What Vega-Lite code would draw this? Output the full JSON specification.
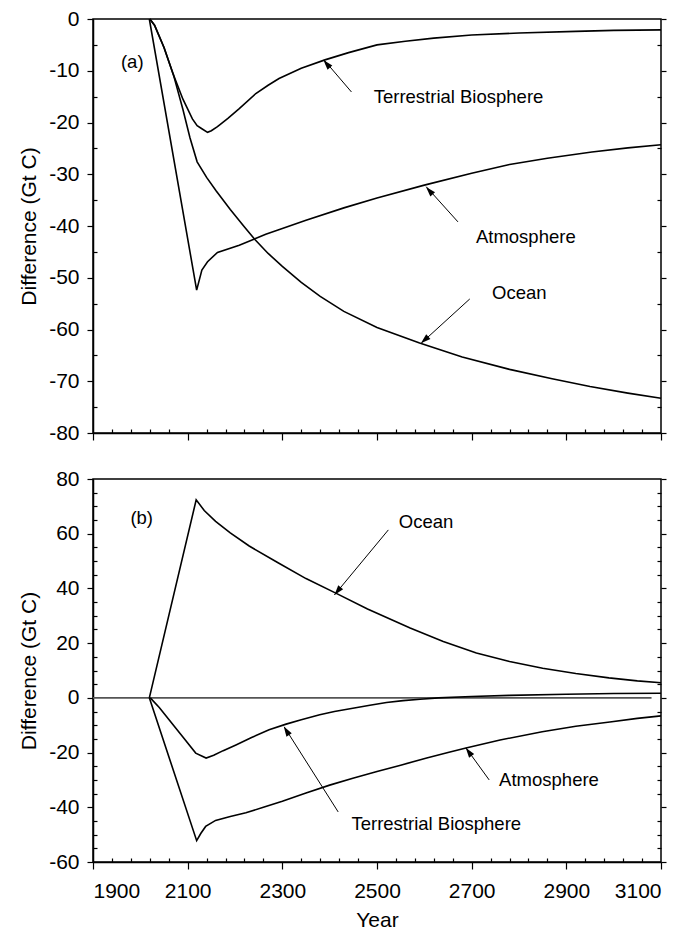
{
  "$schema": "https://vega.github.io/schema/vega-lite/v6.json",
  "padding": {"left": 17, "top": 7, "right": 10, "bottom": 5},
  "background": "white",
  "config": {
    "font": "Liberation Sans",
    "view": {"stroke": "black", "strokeWidth": 1.5},
    "axis": {"domainColor": "black", "tickColor": "black", "labelColor": "black", "titleColor": "black", "labelFont": "Liberation Sans", "titleFont": "Liberation Sans", "labelFontSize": 21, "titleFontSize": 21, "titleFontWeight": "normal", "grid": false, "tickWidth": 1.2, "domainWidth": 1.5}
  },
  "datasets": {
    "a_lines": [
      {"series": "T", "year": 2020, "value": 0}, {"series": "T", "year": 2030, "value": -1.2}, {"series": "T", "year": 2050, "value": -5.5}, {"series": "T", "year": 2070, "value": -10.8}, {"series": "T", "year": 2090, "value": -15.5}, {"series": "T", "year": 2110, "value": -19.3}, {"series": "T", "year": 2120, "value": -20.6}, {"series": "T", "year": 2130, "value": -21.2}, {"series": "T", "year": 2142, "value": -21.9}, {"series": "T", "year": 2150, "value": -21.6}, {"series": "T", "year": 2163, "value": -20.8}, {"series": "T", "year": 2185, "value": -19.2}, {"series": "T", "year": 2209, "value": -17.3}, {"series": "T", "year": 2244, "value": -14.4}, {"series": "T", "year": 2270, "value": -12.8}, {"series": "T", "year": 2293, "value": -11.5}, {"series": "T", "year": 2340, "value": -9.5}, {"series": "T", "year": 2390, "value": -7.9}, {"series": "T", "year": 2440, "value": -6.5}, {"series": "T", "year": 2500, "value": -5.0}, {"series": "T", "year": 2560, "value": -4.3}, {"series": "T", "year": 2620, "value": -3.7}, {"series": "T", "year": 2700, "value": -3.1}, {"series": "T", "year": 2800, "value": -2.7}, {"series": "T", "year": 2920, "value": -2.4}, {"series": "T", "year": 3000, "value": -2.2}, {"series": "T", "year": 3100, "value": -2.1},
      {"series": "O", "year": 2020, "value": 0}, {"series": "O", "year": 2030, "value": -1.2}, {"series": "O", "year": 2050, "value": -5.5}, {"series": "O", "year": 2070, "value": -10.8}, {"series": "O", "year": 2090, "value": -17.5}, {"series": "O", "year": 2105, "value": -23.0}, {"series": "O", "year": 2120, "value": -27.6}, {"series": "O", "year": 2140, "value": -30.6}, {"series": "O", "year": 2160, "value": -33.2}, {"series": "O", "year": 2190, "value": -36.8}, {"series": "O", "year": 2220, "value": -40.2}, {"series": "O", "year": 2242, "value": -42.6}, {"series": "O", "year": 2270, "value": -45.3}, {"series": "O", "year": 2300, "value": -47.8}, {"series": "O", "year": 2340, "value": -50.9}, {"series": "O", "year": 2380, "value": -53.6}, {"series": "O", "year": 2430, "value": -56.5}, {"series": "O", "year": 2500, "value": -59.6}, {"series": "O", "year": 2590, "value": -62.6}, {"series": "O", "year": 2680, "value": -65.3}, {"series": "O", "year": 2780, "value": -67.7}, {"series": "O", "year": 2870, "value": -69.5}, {"series": "O", "year": 2950, "value": -71.0}, {"series": "O", "year": 3030, "value": -72.3}, {"series": "O", "year": 3100, "value": -73.3},
      {"series": "A", "year": 2019, "value": 0}, {"series": "A", "year": 2119, "value": -52.4}, {"series": "A", "year": 2130, "value": -48.5}, {"series": "A", "year": 2142, "value": -46.9}, {"series": "A", "year": 2163, "value": -45.1}, {"series": "A", "year": 2209, "value": -43.7}, {"series": "A", "year": 2265, "value": -41.6}, {"series": "A", "year": 2300, "value": -40.5}, {"series": "A", "year": 2350, "value": -38.9}, {"series": "A", "year": 2430, "value": -36.5}, {"series": "A", "year": 2500, "value": -34.6}, {"series": "A", "year": 2600, "value": -32.1}, {"series": "A", "year": 2700, "value": -29.8}, {"series": "A", "year": 2780, "value": -28.1}, {"series": "A", "year": 2860, "value": -26.9}, {"series": "A", "year": 2954, "value": -25.7}, {"series": "A", "year": 3030, "value": -24.9}, {"series": "A", "year": 3100, "value": -24.3}
    ],
    "b_lines": [
      {"series": "Z", "year": 1900, "value": 0}, {"series": "Z", "year": 3080, "value": 0},
      {"series": "O", "year": 2019, "value": 0}, {"series": "O", "year": 2118, "value": 72.4}, {"series": "O", "year": 2135, "value": 68.5}, {"series": "O", "year": 2159, "value": 64.5}, {"series": "O", "year": 2190, "value": 60.3}, {"series": "O", "year": 2230, "value": 55.5}, {"series": "O", "year": 2290, "value": 49.5}, {"series": "O", "year": 2350, "value": 43.6}, {"series": "O", "year": 2414, "value": 38.2}, {"series": "O", "year": 2480, "value": 32.5}, {"series": "O", "year": 2570, "value": 25.5}, {"series": "O", "year": 2640, "value": 20.6}, {"series": "O", "year": 2710, "value": 16.4}, {"series": "O", "year": 2780, "value": 13.3}, {"series": "O", "year": 2850, "value": 10.8}, {"series": "O", "year": 2920, "value": 8.9}, {"series": "O", "year": 2990, "value": 7.3}, {"series": "O", "year": 3050, "value": 6.2}, {"series": "O", "year": 3100, "value": 5.5},
      {"series": "T", "year": 2021, "value": 0}, {"series": "T", "year": 2040, "value": -3.5}, {"series": "T", "year": 2070, "value": -10.0}, {"series": "T", "year": 2095, "value": -15.4}, {"series": "T", "year": 2117, "value": -20.2}, {"series": "T", "year": 2139, "value": -22.0}, {"series": "T", "year": 2155, "value": -21.0}, {"series": "T", "year": 2175, "value": -19.3}, {"series": "T", "year": 2202, "value": -17.2}, {"series": "T", "year": 2235, "value": -14.5}, {"series": "T", "year": 2272, "value": -11.7}, {"series": "T", "year": 2308, "value": -9.6}, {"series": "T", "year": 2340, "value": -8.0}, {"series": "T", "year": 2379, "value": -6.2}, {"series": "T", "year": 2410, "value": -5.0}, {"series": "T", "year": 2449, "value": -3.8}, {"series": "T", "year": 2485, "value": -2.7}, {"series": "T", "year": 2520, "value": -1.7}, {"series": "T", "year": 2555, "value": -1.0}, {"series": "T", "year": 2591, "value": -0.5}, {"series": "T", "year": 2630, "value": 0}, {"series": "T", "year": 2700, "value": 0.5}, {"series": "T", "year": 2780, "value": 0.9}, {"series": "T", "year": 2900, "value": 1.3}, {"series": "T", "year": 3000, "value": 1.6}, {"series": "T", "year": 3100, "value": 1.7},
      {"series": "A", "year": 2019, "value": 0}, {"series": "A", "year": 2119, "value": -52.2}, {"series": "A", "year": 2128, "value": -49.5}, {"series": "A", "year": 2138, "value": -47.0}, {"series": "A", "year": 2159, "value": -44.8}, {"series": "A", "year": 2190, "value": -43.4}, {"series": "A", "year": 2223, "value": -42.0}, {"series": "A", "year": 2260, "value": -40.0}, {"series": "A", "year": 2300, "value": -37.8}, {"series": "A", "year": 2350, "value": -34.8}, {"series": "A", "year": 2400, "value": -31.9}, {"series": "A", "year": 2449, "value": -29.4}, {"series": "A", "year": 2500, "value": -26.9}, {"series": "A", "year": 2550, "value": -24.6}, {"series": "A", "year": 2605, "value": -22.0}, {"series": "A", "year": 2650, "value": -20.0}, {"series": "A", "year": 2688, "value": -18.3}, {"series": "A", "year": 2760, "value": -15.4}, {"series": "A", "year": 2849, "value": -12.4}, {"series": "A", "year": 2920, "value": -10.4}, {"series": "A", "year": 2992, "value": -8.8}, {"series": "A", "year": 3050, "value": -7.5}, {"series": "A", "year": 3100, "value": -6.6}
    ],
    "a_notes": [
      {"label": "(a)", "tx": 1959, "ty": -8.3},
      {"label": "Terrestrial Biosphere", "tx": 2493, "ty": -15.1, "x1": 2446, "y1": -14.1, "x2": 2388, "y2": -7.9, "hx": 2394, "hy": -8.7, "angle": -41},
      {"label": "Atmosphere", "tx": 2709, "ty": -42.1, "x1": 2671, "y1": -39.2, "x2": 2604, "y2": -32.4, "hx": 2611, "hy": -33.2, "angle": -42},
      {"label": "Ocean", "tx": 2743, "ty": -52.9, "x1": 2696, "y1": -54.1, "x2": 2594, "y2": -62.6, "hx": 2601, "hy": -62.0, "angle": -132}
    ],
    "b_notes": [
      {"label": "(b)", "tx": 1979, "ty": 65.8},
      {"label": "Ocean", "tx": 2546, "ty": 64.3, "x1": 2524, "y1": 61.4, "x2": 2410, "y2": 37.6, "hx": 2417, "hy": 39.1, "angle": -141},
      {"label": "Atmosphere", "tx": 2758, "ty": -30.0, "x1": 2737, "y1": -30.0, "x2": 2688, "y2": -18.3, "hx": 2694, "hy": -19.8, "angle": -36},
      {"label": "Terrestrial Biosphere", "tx": 2446, "ty": -46.1, "x1": 2418, "y1": -41.7, "x2": 2304, "y2": -10.6, "hx": 2309, "hy": -12.1, "angle": -32}
    ]
  },
  "spacing": 23,
  "vconcat": [
    {
      "width": 568, "height": 414,
      "data": {"name": "a_lines"},
      "resolve": {"axis": {"x": "independent", "y": "independent"}},
      "layer": [
        {
          "mark": {"type": "line", "strokeWidth": 1.6, "color": "black"},
          "encoding": {
            "x": {"field": "year", "type": "quantitative", "scale": {"domain": [1900, 3100], "nice": false, "zero": false}, "axis": {"orient": "bottom", "values": [1900, 2100, 2300, 2500, 2700, 2900, 3100], "tickSize": 7, "labels": false, "title": null}},
            "y": {"field": "value", "type": "quantitative", "scale": {"domain": [-80, 0], "nice": false, "zero": false}, "axis": {"orient": "left", "values": [-80, -70, -60, -50, -40, -30, -20, -10, 0], "tickSize": 6, "labelPadding": 8, "labelExpr": "'' + datum.value", "title": "Difference (Gt C)", "titlePadding": 9}},
            "detail": {"field": "series"}
          }
        },
        {
          "mark": {"type": "point", "opacity": 0},
          "encoding": {
            "x": {"field": "year", "type": "quantitative", "scale": {"domain": [1900, 3100], "nice": false, "zero": false}, "axis": {"orient": "bottom", "values": [1940, 1980, 2020, 2060, 2140, 2180, 2220, 2260, 2340, 2380, 2420, 2460, 2540, 2580, 2620, 2660, 2740, 2780, 2820, 2860, 2940, 2980, 3020, 3060], "tickSize": -4, "labels": false, "domain": false, "title": null}},
            "y": {"field": "value", "type": "quantitative", "scale": {"domain": [-80, 0], "nice": false, "zero": false}, "axis": {"orient": "left", "values": [-75, -65, -55, -45, -35, -25, -15, -5], "tickSize": -4, "labels": false, "domain": false, "title": null}}
          }
        },
        {
          "mark": {"type": "point", "opacity": 0},
          "encoding": {
            "x": {"field": "year", "type": "quantitative", "scale": {"domain": [1900, 3100], "nice": false, "zero": false}, "axis": null},
            "y": {"field": "value", "type": "quantitative", "scale": {"domain": [-80, 0], "nice": false, "zero": false}, "axis": {"orient": "right", "values": [-80, -70, -60, -50, -40, -30, -20, -10, 0], "tickSize": 5, "labels": false, "domain": false, "title": null}}
          }
        },
        {
          "mark": {"type": "point", "opacity": 0},
          "encoding": {
            "x": {"field": "year", "type": "quantitative", "scale": {"domain": [1900, 3100], "nice": false, "zero": false}, "axis": null},
            "y": {"field": "value", "type": "quantitative", "scale": {"domain": [-80, 0], "nice": false, "zero": false}, "axis": {"orient": "right", "values": [-75, -65, -55, -45, -35, -25, -15, -5], "tickSize": -4, "labels": false, "domain": false, "title": null}}
          }
        },
        {
          "data": {"name": "a_notes"},
          "transform": [{"filter": "isValid(datum.x1)"}],
          "mark": {"type": "rule", "color": "black", "strokeWidth": 1},
          "encoding": {
            "x": {"field": "x1", "type": "quantitative", "scale": {"domain": [1900, 3100], "nice": false, "zero": false}, "axis": null},
            "y": {"field": "y1", "type": "quantitative", "scale": {"domain": [-80, 0], "nice": false, "zero": false}, "axis": null},
            "x2": {"field": "x2"},
            "y2": {"field": "y2"}
          }
        },
        {
          "data": {"name": "a_notes"},
          "transform": [{"filter": "isValid(datum.x1)"}],
          "mark": {"type": "point", "shape": "M0,-1L0.6,0.9L-0.6,0.9Z", "filled": true, "color": "black", "opacity": 1, "size": 110},
          "encoding": {
            "x": {"field": "hx", "type": "quantitative", "scale": {"domain": [1900, 3100], "nice": false, "zero": false}, "axis": null},
            "y": {"field": "hy", "type": "quantitative", "scale": {"domain": [-80, 0], "nice": false, "zero": false}, "axis": null},
            "angle": {"field": "angle", "type": "quantitative", "scale": null}
          }
        },
        {
          "data": {"name": "a_notes"},
          "mark": {"type": "text", "align": "left", "baseline": "middle", "font": "Liberation Sans", "fontSize": 18.5, "color": "black"},
          "encoding": {
            "x": {"field": "tx", "type": "quantitative", "scale": {"domain": [1900, 3100], "nice": false, "zero": false}, "axis": null},
            "y": {"field": "ty", "type": "quantitative", "scale": {"domain": [-80, 0], "nice": false, "zero": false}, "axis": null},
            "text": {"field": "label"}
          }
        }
      ]
    },
    {
      "width": 568, "height": 383,
      "data": {"name": "b_lines"},
      "resolve": {"axis": {"x": "independent", "y": "independent"}},
      "layer": [
        {
          "mark": {"type": "line", "strokeWidth": 1.6},
          "encoding": {
            "x": {"field": "year", "type": "quantitative", "scale": {"domain": [1900, 3100], "nice": false, "zero": false}, "axis": {"orient": "bottom", "values": [1900, 2100, 2300, 2500, 2700, 2900, 3100], "tickSize": 7, "labelPadding": 11, "title": "Year", "titlePadding": 8, "labelExpr": "'' + datum.value"}},
            "y": {"field": "value", "type": "quantitative", "scale": {"domain": [-60, 80], "nice": false, "zero": false}, "axis": {"orient": "left", "values": [-60, -40, -20, 0, 20, 40, 60, 80], "tickSize": 6, "labelPadding": 8, "labelExpr": "'' + datum.value", "title": "Difference (Gt C)", "titlePadding": 9}},
            "detail": {"field": "series"},
            "color": {"field": "series", "type": "nominal", "scale": {"domain": ["Z", "O", "T", "A"], "range": ["#555555", "black", "black", "black"]}, "legend": null}
          }
        },
        {
          "mark": {"type": "point", "opacity": 0},
          "encoding": {
            "x": {"field": "year", "type": "quantitative", "scale": {"domain": [1900, 3100], "nice": false, "zero": false}, "axis": {"orient": "bottom", "values": [1940, 1980, 2020, 2060, 2140, 2180, 2220, 2260, 2340, 2380, 2420, 2460, 2540, 2580, 2620, 2660, 2740, 2780, 2820, 2860, 2940, 2980, 3020, 3060], "tickSize": -4, "labels": false, "domain": false, "title": null}},
            "y": {"field": "value", "type": "quantitative", "scale": {"domain": [-60, 80], "nice": false, "zero": false}, "axis": {"orient": "left", "values": [-55, -50, -45, -35, -30, -25, -15, -10, -5, 5, 10, 15, 25, 30, 35, 45, 50, 55, 65, 70, 75], "tickSize": -4, "labels": false, "domain": false, "title": null}}
          }
        },
        {
          "mark": {"type": "point", "opacity": 0},
          "encoding": {
            "x": {"field": "year", "type": "quantitative", "scale": {"domain": [1900, 3100], "nice": false, "zero": false}, "axis": null},
            "y": {"field": "value", "type": "quantitative", "scale": {"domain": [-60, 80], "nice": false, "zero": false}, "axis": {"orient": "right", "values": [-60, -40, -20, 0, 20, 40, 60, 80], "tickSize": 5, "labels": false, "domain": false, "title": null}}
          }
        },
        {
          "mark": {"type": "point", "opacity": 0},
          "encoding": {
            "x": {"field": "year", "type": "quantitative", "scale": {"domain": [1900, 3100], "nice": false, "zero": false}, "axis": null},
            "y": {"field": "value", "type": "quantitative", "scale": {"domain": [-60, 80], "nice": false, "zero": false}, "axis": {"orient": "right", "values": [-55, -50, -45, -35, -30, -25, -15, -10, -5, 5, 10, 15, 25, 30, 35, 45, 50, 55, 65, 70, 75], "tickSize": -4, "labels": false, "domain": false, "title": null}}
          }
        },
        {
          "data": {"name": "b_notes"},
          "transform": [{"filter": "isValid(datum.x1)"}],
          "mark": {"type": "rule", "color": "black", "strokeWidth": 1},
          "encoding": {
            "x": {"field": "x1", "type": "quantitative", "scale": {"domain": [1900, 3100], "nice": false, "zero": false}, "axis": null},
            "y": {"field": "y1", "type": "quantitative", "scale": {"domain": [-60, 80], "nice": false, "zero": false}, "axis": null},
            "x2": {"field": "x2"},
            "y2": {"field": "y2"}
          }
        },
        {
          "data": {"name": "b_notes"},
          "transform": [{"filter": "isValid(datum.x1)"}],
          "mark": {"type": "point", "shape": "M0,-1L0.6,0.9L-0.6,0.9Z", "filled": true, "color": "black", "opacity": 1, "size": 110},
          "encoding": {
            "x": {"field": "hx", "type": "quantitative", "scale": {"domain": [1900, 3100], "nice": false, "zero": false}, "axis": null},
            "y": {"field": "hy", "type": "quantitative", "scale": {"domain": [-60, 80], "nice": false, "zero": false}, "axis": null},
            "angle": {"field": "angle", "type": "quantitative", "scale": null}
          }
        },
        {
          "data": {"name": "b_notes"},
          "mark": {"type": "text", "align": "left", "baseline": "middle", "font": "Liberation Sans", "fontSize": 18.5, "color": "black"},
          "encoding": {
            "x": {"field": "tx", "type": "quantitative", "scale": {"domain": [1900, 3100], "nice": false, "zero": false}, "axis": null},
            "y": {"field": "ty", "type": "quantitative", "scale": {"domain": [-60, 80], "nice": false, "zero": false}, "axis": null},
            "text": {"field": "label"}
          }
        }
      ]
    }
  ]
}
